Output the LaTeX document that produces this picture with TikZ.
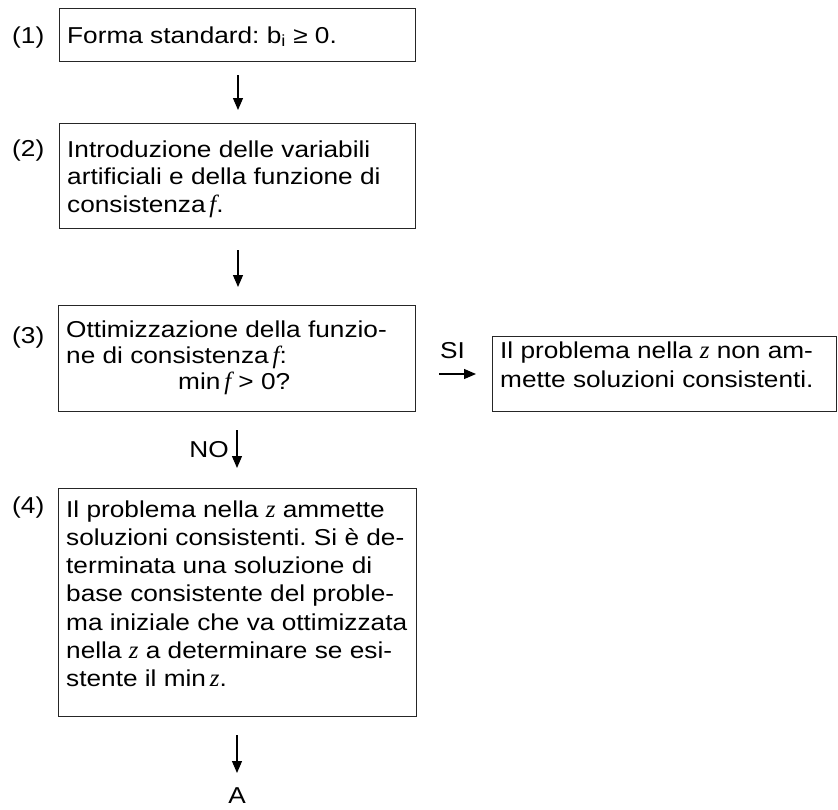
\documentclass[tikz,border=0pt]{standalone}
\usepackage{fontspec}
\setmainfont[FakeStretch=1.14]{Liberation Sans}
\newfontfamily\varfont[Scale=1.08]{Liberation Serif}
\newcommand\vv[1]{{\varfont\itshape #1}}
\newcommand\tlines[3]{\parbox[t]{#1}{\raggedright\baselineskip=#2 #3}}
\usetikzlibrary{arrows.meta}
\begin{document}
\frenchspacing
\begin{tikzpicture}[x=1pt,y=-1pt,
  txt/.style={font=\fontsize{23}{28}\selectfont\frenchspacing},
  frame/.style={draw=black!85, line width=1pt, inner sep=0pt, anchor=north west},
  body/.style={txt, anchor=base west, inner sep=0pt},
  lbl/.style={txt, anchor=base west, inner sep=0pt},
  arr/.style={-{Triangle[width=10pt,length=12pt]}, line width=1.2pt}]
\useasboundingbox (0,0) rectangle (838,809);

\node[frame, minimum width=356pt, minimum height=53pt] (b1) at (59,8) {};
\node[frame, minimum width=356pt, minimum height=105pt] (b2) at (59,123) {};
\node[frame, minimum width=357pt, minimum height=106pt] (b3) at (58,305) {};
\node[frame, minimum width=358pt, minimum height=228pt] (b4) at (58,488) {};
\node[frame, minimum width=344pt, minimum height=75pt] (b5) at (492,336) {};

\node[body] (t1) at (67,43) {Forma standard: b\textsubscript{i} ≥ 0.};
\node[body] (t2) at (67,157) {\tlines{345pt}{27.5pt}{Introduzione delle variabili\\artificiali e della funzione di\\consistenza\,\vv{f}.}};
\node[body] (t3) at (66,337) {\tlines{345pt}{26pt}{Ottimizzazione della funzio-\\ne di consistenza\,\vv{f}:\\\hspace*{112pt}min\,\vv{f} > 0?}};
\node[body] (t4) at (66,517) {\tlines{350pt}{28.3pt}{Il problema nella \vv{z} ammette\\soluzioni consistenti. Si è de-\\terminata una soluzione di\\base consistente del proble-\\ma iniziale che va ottimizzata\\nella \vv{z} a determinare se esi-\\stente il min\,\vv{z}.}};
\node[body] (t5) at (500,358) {\tlines{340pt}{29pt}{Il problema nella \vv{z} non am-\\mette soluzioni consistenti.}};

\node[lbl] (l1) at (12,43) {(1)};
\node[lbl] (l2) at (12,156) {(2)};
\node[lbl] (l3) at (12,343) {(3)};
\node[lbl] (l4) at (12,513) {(4)};
\node[lbl] (si) at (440,358) {SI};
\node[txt, anchor=base east, inner sep=0pt] (no) at (229,457) {NO};
\node[txt, anchor=base, inner sep=0pt] (A) at (237,803) {A};

\coordinate (a1s) at (238,75);  \coordinate (a1e) at (238,110);
\coordinate (a2s) at (238,250); \coordinate (a2e) at (238,287);
\coordinate (a3s) at (237,430); \coordinate (a3e) at (237,468);
\coordinate (a4s) at (237,735); \coordinate (a4e) at (237,773);
\coordinate (a5s) at (439,374); \coordinate (a5e) at (476,374);
\draw[arr] (a1s) -- (a1e);
\draw[arr] (a2s) -- (a2e);
\draw[arr] (a3s) -- (a3e);
\draw[arr] (a4s) -- (a4e);
\draw[arr] (a5s) -- (a5e);
\end{tikzpicture}
\end{document}
